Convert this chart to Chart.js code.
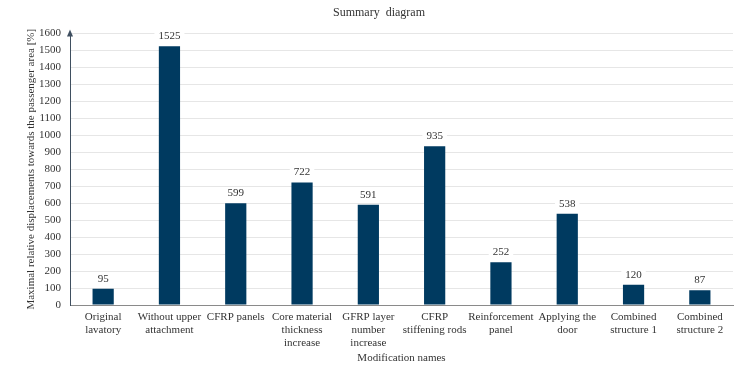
<!DOCTYPE html>
<html>
<head>
<meta charset="utf-8">
<script src="https://cdn.jsdelivr.net/npm/chart.js@4"></script>
<style>
  html, body { margin: 0; padding: 0; background: #fff; }
  #wrap { width: 735px; height: 366px; position: relative; }
</style>
</head>
<body>
<div id="wrap"><canvas id="c"></canvas></div>
<script>
const categories = [
  ['Original', 'lavatory'],
  ['Without upper', 'attachment'],
  ['CFRP panels'],
  ['Core material', 'thickness', 'increase'],
  ['GFRP layer', 'number', 'increase'],
  ['CFRP', 'stiffening rods'],
  ['Reinforcement', 'panel'],
  ['Applying the', 'door'],
  ['Combined', 'structure 1'],
  ['Combined', 'structure 2']
];
const displacement = [95, 1525, 599, 722, 591, 935, 252, 538, 120, 87];
const yTicks = [0, 100, 200, 300, 400, 500, 600, 700, 800, 900, 1000, 1100, 1200, 1300, 1400, 1500, 1600];

const FONT = "'Liberation Serif', 'Times New Roman', serif";
const TEXT = '#333333';

// value labels drawn over a white box so the gridlines break behind them
const valueLabels = {
  id: 'valueLabels',
  afterDatasetsDraw(chart) {
    const ctx = chart.ctx;
    const meta = chart.getDatasetMeta(0);
    ctx.save();
    ctx.font = '11px ' + FONT;
    ctx.textAlign = 'center';
    ctx.textBaseline = 'middle';
    meta.data.forEach((bar, i) => {
      const txt = String(displacement[i]);
      const w = ctx.measureText(txt).width + 8;
      const y = bar.y - 10;
      ctx.fillStyle = '#ffffff';
      ctx.fillRect(bar.x - w / 2, y - 6, w, 12);
      ctx.fillStyle = TEXT;
      ctx.fillText(txt, bar.x, y);
    });
    ctx.restore();
  }
};

// arrow head at the top of the value axis
const axisArrow = {
  id: 'axisArrow',
  afterDraw(chart) {
    const ctx = chart.ctx;
    const a = chart.chartArea;
    ctx.save();
    ctx.fillStyle = '#3f4f60';
    ctx.beginPath();
    ctx.moveTo(a.left, a.top - 4);
    ctx.lineTo(a.left - 3, a.top + 3);
    ctx.lineTo(a.left + 3, a.top + 3);
    ctx.closePath();
    ctx.fill();
    ctx.restore();
  }
};

new Chart(document.getElementById('c'), {
  type: 'bar',
  data: {
    labels: categories,
    datasets: [{
      data: displacement,
      backgroundColor: '#003a60',
      borderWidth: 0,
      barPercentage: 0.32,
      categoryPercentage: 1.0
    }]
  },
  options: {
    responsive: true,
    maintainAspectRatio: false,
    animation: false,
    layout: { padding: { top: 0, right: 2, bottom: 0, left: 25 } },
    plugins: {
      legend: { display: false },
      tooltip: { enabled: false },
      title: {
        display: true,
        text: 'Summary  diagram',
        color: TEXT,
        font: { family: FONT, size: 12, weight: 'normal' },
        padding: { top: 6, bottom: 13 }
      }
    },
    scales: {
      x: {
        grid: { display: false, drawTicks: false },
        border: { color: '#8a8a8a', width: 1 },
        afterFit(scale) { scale.height = 61; },
        ticks: {
          color: TEXT,
          font: { family: FONT, size: 11, lineHeight: 1.15 },
          maxRotation: 0,
          autoSkip: false,
          padding: 6
        },
        title: {
          display: true,
          text: 'Modification names',
          color: TEXT,
          font: { family: FONT, size: 11 },
          padding: { top: 0, bottom: 1 }
        }
      },
      y: {
        min: 0,
        max: 1600,
        afterBuildTicks(scale) { scale.ticks = yTicks.map(v => ({ value: v })); },
        afterFit(scale) { scale.width = 45; },
        grid: { color: '#e6e6e6', lineWidth: 1, drawTicks: false },
        border: { color: '#3f4f60', width: 1 },
        ticks: {
          color: TEXT,
          font: { family: FONT, size: 11 },
          padding: 9,
          callback: v => String(v)
        },
        title: {
          display: true,
          text: 'Maximal relative displacements towards the passenger area [%]',
          color: TEXT,
          font: { family: FONT, size: 11 },
          padding: { top: 0, bottom: 2 }
        }
      }
    }
  },
  plugins: [valueLabels, axisArrow]
});
</script>
</body>
</html>
